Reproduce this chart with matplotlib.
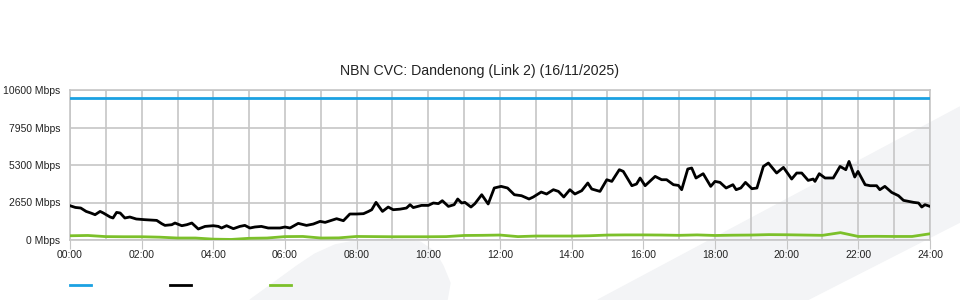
import matplotlib
matplotlib.use('Agg')
import matplotlib.pyplot as plt
from matplotlib.patches import Polygon
from matplotlib.lines import Line2D

# valores (horas, Mbps)
capacidade = 10000
horas_verde = [i * 0.5 for i in range(49)]
upload = [300, 320, 240, 230, 230, 200, 140, 140, 60, 40, 120, 140, 240, 250, 140, 150,
          250, 240, 230, 230, 230, 240, 320, 330, 350, 240, 280, 280, 280, 300, 350, 360,
          360, 350, 330, 360, 320, 340, 350, 380, 370, 350, 330, 520, 250, 260, 250, 250, 440]

horas = [0.00, 0.15, 0.30, 0.45, 0.58, 0.70, 0.84, 0.93, 1.12, 1.20, 1.30, 1.40, 1.53, 1.67,
         1.85, 2.09, 2.42, 2.56, 2.65, 2.84, 2.93, 3.12, 3.26, 3.40, 3.58, 3.77, 4.00, 4.14,
         4.23, 4.37, 4.56, 4.74, 4.88, 5.02, 5.16, 5.34, 5.53, 5.86, 6.00, 6.14, 6.37, 6.60,
         6.79, 6.98, 7.12, 7.44, 7.63, 7.81, 8.00, 8.19, 8.33, 8.42, 8.54, 8.72, 8.88, 9.02,
         9.21, 9.39, 9.49, 9.58, 9.81, 10.00, 10.14, 10.28, 10.39, 10.56, 10.72, 10.82, 10.93,
         11.02, 11.19, 11.30, 11.49, 11.67, 11.84, 12.03, 12.21, 12.40, 12.60, 12.81, 12.93,
         13.15, 13.30, 13.49, 13.63, 13.78, 13.95, 14.09, 14.28, 14.45, 14.56, 14.79, 14.98,
         15.12, 15.33, 15.44, 15.68, 15.81, 15.91, 16.05, 16.33, 16.51, 16.65, 16.84, 16.98,
         17.07, 17.24, 17.35, 17.47, 17.67, 17.88, 18.00, 18.14, 18.31, 18.50, 18.59, 18.72,
         18.85, 19.03, 19.17, 19.35, 19.49, 19.72, 19.91, 20.14, 20.28, 20.42, 20.60, 20.74,
         20.79, 20.91, 21.07, 21.30, 21.49, 21.65, 21.74, 21.90, 21.99, 22.19, 22.33, 22.51,
         22.60, 22.74, 22.93, 23.12, 23.26, 23.54, 23.68, 23.77, 23.86, 24.00]
download = [2424, 2300, 2260, 2020, 1908, 1788, 2020, 1908, 1625, 1555, 1950, 1908, 1555, 1625,
            1484, 1435, 1385, 1152, 1032, 1081, 1200, 1010, 1081, 1200, 777, 961, 1010, 961,
            848, 1010, 800, 961, 1032, 848, 919, 961, 848, 848, 919, 848, 1175, 1032,
            1129, 1316, 1245, 1505, 1363, 1837, 1837, 1860, 2020, 2140, 2660, 2020, 2330, 2140,
            2180, 2260, 2495, 2290, 2445, 2445, 2615, 2570, 2777, 2375, 2495, 2897, 2615,
            2660, 2330, 2570, 3200, 2545, 3675, 3790, 3675, 3200, 3130, 2897, 3040,
            3390, 3250, 3555, 3435, 3040, 3555, 3250, 3484, 4028, 3604, 3435, 4261,
            4141, 4968, 4848, 3837, 3957, 4381, 3837, 4495, 4261, 4261, 3908, 3858,
            3555, 5017, 5088, 4381, 4685, 3790, 4141, 4070, 3675, 3908, 3555, 3675,
            4070, 3625, 3675, 5200, 5440, 4733, 5130, 4308, 4733, 4733, 4212, 4308,
            4141, 4685, 4381, 4381, 5200, 4968, 5555, 4450, 4848, 3908, 3837, 3837,
            3555, 3790, 3364, 3130, 2800, 2660, 2615, 2330, 2495, 2375]

yticks = [0, 2650, 5300, 7950, 10600]
xticks = list(range(0, 25, 2))
titulo = 'NBN CVC: Dandenong (Link 2) (16/11/2025)'

plt.rcParams['font.family'] = ['Liberation Sans', 'DejaVu Sans']

fig = plt.figure(figsize=(9.6, 3), dpi=100)

# fundo: manchas cinza claras (marca d'agua)
cinza = '#f3f4f6'
def px(pts):
    return [(x / 960, 1 - y / 300) for x, y in pts]
fig.add_artist(Polygon(px([(250, 300), (275, 282), (297, 266), (315, 254), (335, 245),
                           (360, 240), (395, 239), (420, 242), (435, 252), (443, 266),
                           (450, 283), (447, 300)]),
                       closed=True, transform=fig.transFigure, color=cinza, zorder=0))
fig.add_artist(Polygon(px([(598, 300), (960, 107), (960, 222), (807, 300)]),
                       closed=True, transform=fig.transFigure, color=cinza, zorder=0))

ax = fig.add_axes([70 / 960, 0.2, 860 / 960, 0.5])
ax.patch.set_alpha(0)

ax.plot([0, 24], [capacidade, capacidade], color='#1ba1e2', lw=2, zorder=3)
ax.plot(horas, download, color='black', lw=2, zorder=4)
ax.plot(horas_verde, upload, color='#7cc02a', lw=2, zorder=3)

ax.set_xlim(0, 24)
ax.set_ylim(0, 10600)
ax.set_yticks(yticks)
ax.set_yticklabels([f'{v} Mbps' for v in yticks])
ax.set_xticks(xticks)
ax.set_xticklabels([f'{h:02d}:00' for h in xticks])
ax.set_xticks(range(25), minor=True)
ax.grid(True, which='both', color='#c6c6c6', lw=1.2)
ax.set_axisbelow(True)
ax.tick_params(axis='y', length=0, pad=7, labelsize=7.5, labelcolor='#222222')
ax.tick_params(axis='x', which='major', length=6.5, color='#c6c6c6', pad=1, labelsize=7.5,
               labelcolor='#222222')
ax.tick_params(axis='x', which='minor', length=0)
for s in ax.spines.values():
    s.set_color('#c6c6c6')
    s.set_linewidth(1.2)

fig.text(0.5, 1 - 71 / 300, titulo, ha='center', va='center', fontsize=10.2, color='#222222')

# legenda sem texto
for x0, cor in [(70, '#1ba1e2'), (170, 'black'), (270, '#7cc02a')]:
    fig.add_artist(Line2D([x0 / 960, (x0 + 21) / 960], [1 - 285 / 300] * 2,
                          transform=fig.transFigure, color=cor, lw=2))

fig.savefig('out.png', dpi=100, facecolor='white')
